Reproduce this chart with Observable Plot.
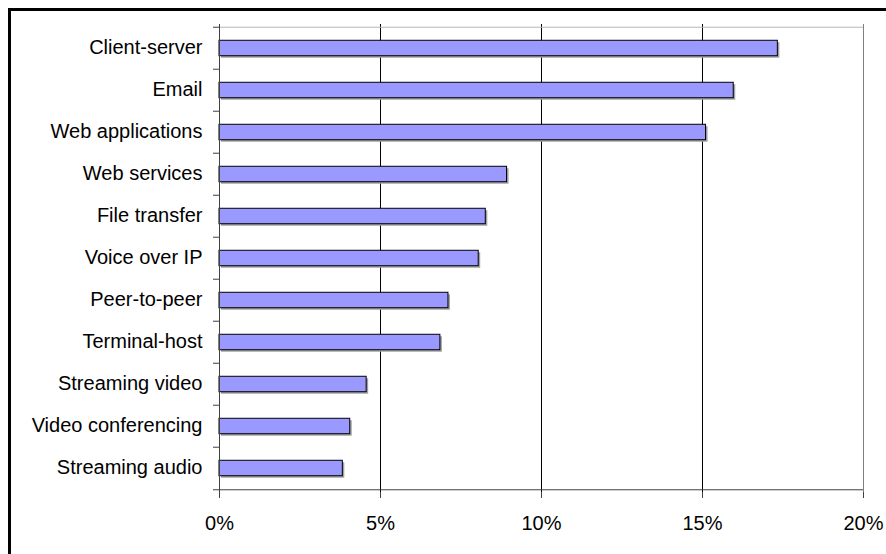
<!DOCTYPE html>
<html>
<head>
<meta charset="utf-8">
<script src="https://cdn.jsdelivr.net/npm/d3@7"></script>
<script src="https://cdn.jsdelivr.net/npm/@observablehq/plot@0.6"></script>
<style>
  html, body { margin: 0; padding: 0; background: white; overflow: hidden; }
  #wrap { position: relative; width: 886px; height: 554px; overflow: hidden; }
  #frame { position: absolute; left: 8px; top: 8px; width: 1000px; height: 1000px;
           border: 3px solid black; pointer-events: none; z-index: 2; }
  #chart { position: absolute; left: 0; top: 0; z-index: 1; }
</style>
</head>
<body>
<div id="wrap"><div id="chart"></div><div id="frame"></div></div>
<script>
const categories = ["Client-server", "Email", "Web applications", "Web services", "File transfer",
  "Voice over IP", "Peer-to-peer", "Terminal-host", "Streaming video", "Video conferencing", "Streaming audio"];
const shares = [17.34, 15.97, 15.11, 8.93, 8.27, 8.05, 7.11, 6.86, 4.57, 4.06, 3.83];
const xTicks = [0, 5, 10, 15, 20];
const gridTicks = [5, 10, 15];

const data = categories.map((c, i) => ({category: c, share: shares[i]}));

const W = 886, H = 554, mL = 219, mR = 23, mT = 24, mB = 62;
const step = (H - mT - mB) / categories.length;
const barH = 16;
const inset = (step - barH) / 2;
const last = categories[categories.length - 1];

const chart = Plot.plot({
  width: W, height: H,
  marginLeft: mL, marginRight: mR, marginTop: mT, marginBottom: mB,
  style: {fontFamily: "'Liberation Sans', Arial, sans-serif", fontSize: "20px", color: "black", background: "white"},
  x: {domain: [0, 20]},
  y: {domain: categories, padding: 0},
  marks: [
    Plot.gridX({ticks: gridTicks, stroke: "black", strokeOpacity: 1}),
    Plot.gridX({ticks: [20], stroke: "#808080", strokeOpacity: 1}),
    Plot.gridY({ticks: [categories[0]], dy: -step / 2, stroke: "#b8b8b8", strokeOpacity: 1}),
    Plot.barX(data, {x: "share", y: "category", insetTop: inset, insetBottom: inset,
      fill: "#a0a0a0", dx: 2, dy: 2}),
    Plot.barX(data, {x: "share", y: "category", insetTop: inset, insetBottom: inset,
      fill: "#9999FF", stroke: "black", strokeWidth: 1}),
    Plot.ruleX([0], {stroke: "#404040"}),
    Plot.gridY({ticks: [last], dy: step / 2, stroke: "#404040", strokeOpacity: 1}),
    Plot.axisY({tickSize: 0, tickPadding: 17, label: null, dy: -1}),
    Plot.axisY({tickSize: 6, text: null, dy: -step / 2, label: null, stroke: "#404040"}),
    Plot.axisY({ticks: [last], tickSize: 6, text: null, dy: step / 2, label: null, stroke: "#404040"}),
    Plot.axisX({ticks: xTicks, tickSize: 6, tickPadding: 17, tickFormat: d => d + "%", label: null, stroke: "#404040"})
  ]
});
document.getElementById("chart").appendChild(chart);
</script>
</body>
</html>
